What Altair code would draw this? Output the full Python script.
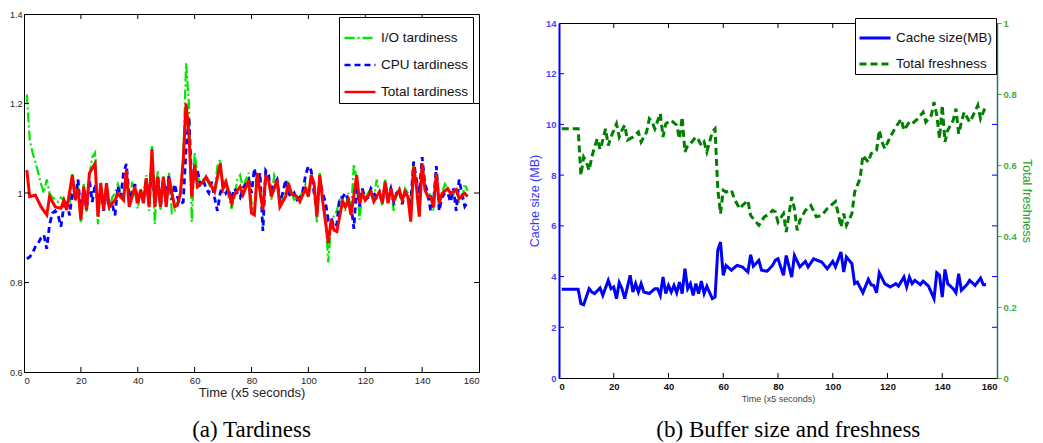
import altair as alt
import pandas as pd

# ---------------- Left panel data: tardiness ----------------
io_t = list(range(1, 157))
io_v = [1.22, 1.12, 1.09, 1.07, 1.045, 1.02, 1.0, 1.03, 1.0, 0.99,
        0.985, 0.98, 0.99, 0.985, 0.975, 0.97, 1.045, 0.985, 1.02, 0.935,
        1.02, 0.955, 1.04, 1.08, 1.09, 0.93, 1.025, 0.96, 1.025, 0.96,
        0.99, 1.0, 1.02, 1.0, 0.99, 1.04, 0.97, 1.025, 1.0, 0.965,
        1.01, 0.99, 1.04, 0.96, 1.105, 0.93, 1.05, 0.96, 1.04, 0.975,
        1.045, 0.955, 0.96, 0.98, 1.0, 1.08, 1.29, 1.20, 0.935, 1.09,
        1.04, 1.02, 1.03, 1.035, 1.02, 1.01, 1.0, 1.06, 1.075, 1.0,
        1.03, 0.99, 0.965, 0.99, 1.03, 1.04, 1.01, 1.03, 1.045, 0.98,
        0.95, 1.045, 1.0, 0.97, 1.05, 1.03, 0.985, 1.04, 1.025, 0.975,
        0.99, 1.0, 1.02, 1.0, 0.985, 0.99, 0.98, 1.01, 1.02, 0.99,
        1.04, 1.02, 0.935, 1.045, 0.98, 0.95, 0.845, 0.93, 0.95, 0.96,
        0.985, 0.99, 0.96, 1.0, 0.955, 1.065, 1.03, 0.94, 1.01, 0.99,
        1.0, 1.01, 0.985, 1.03, 1.0, 0.97, 1.03, 0.985, 1.01, 0.96,
        1.0, 1.01, 0.98, 1.01, 1.0, 0.945, 1.07, 1.02, 0.95, 1.06,
        1.01, 0.99, 1.0, 0.96, 1.035, 0.975, 1.0, 1.02, 1.01, 0.99,
        0.995, 1.015, 0.98, 0.985, 1.02, 1.005]

cpu_t = list(range(1, 157))
cpu_v = [0.853, 0.857, 0.866, 0.880, 0.888, 0.900, 0.906, 0.875, 0.930, 0.955,
         0.960, 0.950, 0.925, 0.970, 0.985, 0.950, 1.000, 0.990, 1.030, 0.955,
         1.010, 0.965, 1.030, 0.980, 1.020, 0.980, 1.010, 0.960, 1.000, 0.970,
         0.975, 0.950, 1.015, 0.990, 1.045, 1.065, 0.990, 1.000, 1.020, 0.980,
         1.000, 0.985, 1.030, 0.975, 1.070, 0.975, 1.040, 0.970, 1.030, 0.990,
         1.040, 0.985, 1.020, 0.990, 0.975, 0.980, 1.100, 1.170, 1.020, 1.040,
         1.050, 1.020, 1.030, 1.010, 1.000, 1.025, 0.990, 0.960, 1.000, 1.020,
         1.000, 1.010, 0.985, 1.010, 1.000, 0.990, 1.010, 1.020, 1.030, 1.000,
         1.055, 1.020, 1.045, 0.915, 1.050, 1.040, 1.000, 1.020, 1.030, 0.980,
         1.000, 1.030, 1.000, 0.990, 1.000, 0.985, 0.990, 1.000, 1.040, 1.060,
         1.050, 1.000, 0.960, 1.030, 1.000, 0.980, 0.940, 0.945, 0.925, 0.930,
         0.990, 0.990, 1.000, 0.985, 0.975, 0.920, 1.020, 0.970, 1.010, 0.985,
         0.990, 1.010, 1.000, 0.990, 1.000, 0.980, 1.020, 0.990, 1.010, 0.980,
         1.000, 1.005, 0.975, 1.000, 0.990, 0.980, 1.070, 1.030, 1.000, 1.080,
         1.020, 1.000, 0.960, 0.980, 1.060, 0.960, 0.990, 1.000, 1.000, 0.980,
         1.010, 0.960, 1.030, 1.000, 0.970, 0.980]

tot_t = [1, 2, 4, 6, 8, 9, 11, 13, 14, 15, 17, 18, 19, 20, 21, 22, 23, 25, 26, 27,
         28, 29, 30, 32, 33, 35, 36, 37, 39, 40, 41, 42, 43, 44, 45, 46, 47, 48, 49, 50,
         51, 53, 54, 55, 56, 57, 58, 59, 60, 61, 63, 64, 66, 67, 69, 70, 71, 73, 74, 76,
         77, 79, 80, 81, 82, 84, 85, 86, 87, 89, 90, 92, 93, 94, 96, 97, 99, 100, 101, 102,
         103, 104, 105, 107, 108, 109, 110, 112, 113, 114, 115, 117, 118, 119, 120, 122, 123,
         125, 126, 127, 128, 129, 130, 132, 133, 134, 135, 136, 137, 138, 139, 140, 141, 142,
         143, 144, 145, 146, 147, 149, 150, 152, 153, 155, 156]
tot_v = [1.051, 0.992, 0.995, 0.969, 0.951, 0.992, 0.969, 0.966, 0.984, 0.962,
         1.040, 0.984, 1.010, 0.940, 1.014, 0.962, 1.044, 1.066, 0.947, 1.022,
         0.962, 1.022, 0.969, 0.984, 0.999, 0.984, 1.051, 0.969, 1.014, 0.977,
         1.007, 0.977, 1.033, 0.969, 1.098, 0.969, 1.036, 0.969, 1.036, 0.969,
         1.033, 0.969, 0.973, 0.999, 1.074, 1.200, 1.133, 0.992, 1.063, 1.014,
         1.025, 1.036, 1.014, 1.003, 1.066, 1.010, 1.025, 0.977, 0.996, 1.014,
         0.996, 1.029, 0.955, 0.951, 1.044, 0.962, 1.036, 1.029, 0.992, 1.029,
         0.969, 0.992, 1.022, 0.999, 0.992, 0.981, 1.010, 0.992, 1.040, 1.022,
         0.947, 1.040, 0.984, 0.888, 0.940, 0.917, 0.914, 0.981, 0.969, 0.984,
         0.951, 1.040, 0.977, 0.999, 0.984, 1.003, 0.981, 1.003, 0.977, 1.025,
         0.977, 1.010, 0.984, 1.007, 0.984, 1.003, 0.992, 0.936, 1.059, 1.014,
         0.947, 1.066, 1.007, 0.992, 0.992, 0.969, 1.044, 0.977, 0.999, 1.010,
         0.999, 1.007, 0.988, 0.999, 0.992]

left_series = ["I/O tardiness", "CPU tardiness", "Total tardiness"]
left_colors = ["#00e600", "#0000ff", "#ff0000"]
left_dashes = [[10, 3, 2, 3], [6, 4], [1, 0]]
left_yticks = [0.6, 0.8, 1.0, 1.2, 1.4]
left_inner_yticks = [0.8, 1.0, 1.2]

# ---------------- Right panel data: cache size & freshness ----------------
cache_t = [1, 7, 8, 9, 11, 12, 13, 15, 16, 18, 19, 20, 21, 22, 23, 24, 26, 27, 28, 29,
           30, 31, 33, 35, 36, 37, 38, 39, 40, 41, 42, 43, 44, 45, 46, 47, 48, 49, 50, 51,
           52, 53, 54, 56, 57, 58, 59, 60, 61, 63, 65, 67, 69, 70, 71, 73, 74, 76, 78, 79,
           80, 82, 83, 85, 86, 88, 90, 91, 93, 96, 98, 100, 101, 103, 104, 105, 107, 108, 109, 111,
           113, 114, 115, 116, 117, 119, 121, 123, 124, 126, 127, 128, 129, 130, 132, 133, 135,
           137, 138, 139, 140, 141, 142, 144, 145, 146, 147, 149, 150, 152, 154, 155, 156]
cache_v = [3.50, 3.50, 2.93, 2.89, 3.52, 3.39, 3.33, 3.55, 3.26, 3.85,
           3.52, 3.59, 3.13, 3.76, 3.52, 3.13, 4.05, 3.39, 3.72, 3.39,
           3.72, 3.39, 3.33, 3.52, 3.52, 3.26, 3.98, 3.33, 3.65, 3.39,
           3.65, 3.36, 3.78, 3.33, 4.31, 3.52, 3.72, 3.26, 3.72, 3.33,
           3.82, 3.33, 3.62, 3.13, 3.19, 5.04, 5.36, 4.05, 4.44, 4.25,
           4.44, 4.38, 4.18, 4.86, 4.41, 4.64, 4.25, 4.21, 4.44, 4.64,
           4.70, 4.05, 4.83, 3.98, 4.83, 4.38, 4.60, 4.38, 4.70, 4.57,
           4.31, 4.60, 4.38, 4.97, 4.18, 4.77, 4.51, 3.72, 3.78, 3.36,
           3.89, 3.68, 3.65, 3.36, 4.15, 3.72, 3.59, 3.72, 3.62, 3.98,
           3.59, 3.98, 3.72, 3.85, 3.68, 3.82, 3.62, 3.13, 4.15, 4.05,
           3.19, 4.28, 3.72, 3.52, 3.36, 4.11, 3.46, 3.68, 3.85, 3.65,
           3.94, 3.68, 3.68]

fresh_t = [1, 7, 8, 9, 10, 11, 12, 13, 14, 15, 16, 17, 18, 19, 21, 22, 23, 24, 25, 27,
           29, 30, 32, 33, 34, 35, 37, 38, 39, 40, 41, 43, 44, 45, 46, 47, 48, 50, 51, 52,
           53, 54, 56, 57, 58, 59, 60, 61, 63, 64, 66, 67, 69, 70, 72, 73, 75, 77, 78, 79,
           80, 82, 83, 85, 86, 87, 88, 90, 92, 94, 96, 98, 101, 102, 103, 104, 105, 107, 108, 110,
           111, 113, 114, 116, 117, 118, 119, 121, 123, 125, 126, 128, 129, 131, 133, 134, 136,
           137, 138, 139, 140, 141, 142, 144, 145, 146, 147, 148, 150, 151, 153, 154, 156]
fresh_v = [0.702, 0.702, 0.571, 0.622, 0.608, 0.585, 0.623, 0.651, 0.674, 0.644,
           0.670, 0.702, 0.655, 0.679, 0.716, 0.679, 0.698, 0.712, 0.670, 0.679,
           0.693, 0.665, 0.693, 0.730, 0.721, 0.702, 0.745, 0.679, 0.716, 0.721,
           0.726, 0.712, 0.674, 0.735, 0.637, 0.655, 0.660, 0.679, 0.670, 0.655,
           0.665, 0.637, 0.693, 0.702, 0.533, 0.463, 0.529, 0.524, 0.529, 0.505,
           0.477, 0.486, 0.500, 0.458, 0.439, 0.430, 0.454, 0.463, 0.472, 0.468,
           0.439, 0.463, 0.411, 0.510, 0.477, 0.416, 0.444, 0.472, 0.486, 0.454,
           0.458, 0.477, 0.497, 0.463, 0.425, 0.463, 0.430, 0.463, 0.524, 0.562,
           0.627, 0.608, 0.632, 0.641, 0.698, 0.665, 0.646, 0.679, 0.707, 0.729,
           0.698, 0.721, 0.716, 0.730, 0.749, 0.721, 0.740, 0.777, 0.740, 0.674,
           0.768, 0.665, 0.698, 0.726, 0.759, 0.688, 0.721, 0.749, 0.721, 0.735,
           0.768, 0.730, 0.768]

right_series = ["Cache size(MB)", "Total freshness"]
right_colors = ["#0000ff", "#008000"]
right_dashes = [[1, 0], [7, 4]]
x_ticks = [0, 20, 40, 60, 80, 100, 120, 140, 160]
x_inner_ticks = [20, 40, 60, 80, 100, 120, 140]
cache_ticks = [0, 2, 4, 6, 8, 10, 12, 14]
cache_inner_ticks = [2, 4, 6, 8, 10, 12]
fresh_ticks = [0, 0.2, 0.4, 0.6, 0.8, 1.0]

FONT = "Liberation Sans"
SERIF = "Liberation Serif"

# ---------------- Left panel ----------------
W1, H1 = 455, 358
xs1 = alt.Scale(domain=[0, 160], nice=False)
ys1 = alt.Scale(domain=[0.6, 1.4], nice=False, zero=False)
xax1 = alt.Axis(values=x_ticks, tickSize=0, labelPadding=3, labelFontSize=9.5, labelColor="#222",
                title="Time (x5 seconds)", titleFontSize=13, titleFontWeight="normal",
                titlePadding=2, titleColor="#222", domainColor="black", labelFont=FONT, titleFont=FONT)
yax1 = alt.Axis(values=left_yticks, format="~g", tickSize=0, labelPadding=2, labelFontSize=9,
                labelColor="#222", title=None, domainColor="black", labelFont=FONT)

leg1 = alt.Legend(title=None, orient="none", legendX=315, legendY=3, fillColor="white",
                  strokeColor="black", padding=4, labelFontSize=13.5, labelFont=FONT,
                  symbolType="stroke", symbolSize=960, symbolStrokeWidth=2.5, rowPadding=3,
                  labelOffset=4, labelColor="#111")
col1 = alt.Color("s:N", scale=alt.Scale(domain=left_series, range=left_colors), legend=leg1)
dash1 = alt.StrokeDash("s:N", scale=alt.Scale(domain=left_series, range=left_dashes), legend=leg1)

df_io = pd.DataFrame({"t": io_t, "v": io_v, "s": left_series[0]})
df_cpu = pd.DataFrame({"t": cpu_t, "v": cpu_v, "s": left_series[1]})
df_tot = pd.DataFrame({"t": tot_t, "v": tot_v, "s": left_series[2]})


def line1(df, w):
    return alt.Chart(df).mark_line(strokeWidth=w).encode(
        x=alt.X("t:Q", scale=xs1, axis=xax1),
        y=alt.Y("v:Q", scale=ys1, axis=yax1),
        color=col1, strokeDash=dash1, order="t:Q")


xt1 = pd.DataFrame({"t": x_inner_ticks})
yt1 = pd.DataFrame({"v": left_inner_yticks})
tick_top1 = alt.Chart(xt1).mark_rule(color="black").encode(
    x=alt.X("t:Q", scale=xs1, axis=xax1), y=alt.value(0), y2=alt.value(5))
tick_bot1 = alt.Chart(xt1).mark_rule(color="black").encode(
    x=alt.X("t:Q", scale=xs1, axis=xax1), y=alt.value(H1), y2=alt.value(H1 - 5))
tick_l1 = alt.Chart(yt1).mark_rule(color="black").encode(
    y=alt.Y("v:Q", scale=ys1, axis=yax1), x=alt.value(0), x2=alt.value(5))
tick_r1 = alt.Chart(yt1).mark_rule(color="black").encode(
    y=alt.Y("v:Q", scale=ys1, axis=yax1), x=alt.value(W1), x2=alt.value(W1 - 5))

left = alt.layer(
    line1(df_io, 2.2), line1(df_cpu, 2.8), line1(df_tot, 3.0),
    tick_top1, tick_bot1, tick_l1, tick_r1
).properties(
    width=W1, height=H1,
    title=alt.TitleParams("(a) Tardiness", orient="bottom", font=SERIF, fontSize=23,
                          fontWeight="normal", color="black", offset=19, anchor="middle")
)

# ---------------- Right panel ----------------
W2, H2 = 438, 355
xs2 = alt.Scale(domain=[0, 160], nice=False)
ys_cache = alt.Scale(domain=[0, 14], nice=False)
ys_fresh = alt.Scale(domain=[0, 1], nice=False)
xax2 = alt.Axis(values=x_ticks, tickSize=0, labelPadding=3, labelFontSize=9.5, labelFontWeight="bold",
                labelColor="#111", title="Time (x5 seconds)", titleFontSize=9,
                titleFontWeight="normal", titlePadding=4, titleColor="#444",
                domainColor="black", labelFont=FONT, titleFont=FONT)
yax_cache = alt.Axis(orient="left", values=cache_ticks, tickSize=0, labelPadding=3,
                     labelFontSize=9.5, labelFontWeight="bold", labelColor="#4444ff",
                     title="Cache size (MB)", titleFontSize=12.5, titleFontWeight="normal",
                     titleColor="#3a3aff", titlePadding=4, domainColor="#0000ff", domainWidth=2,
                     labelFont=FONT, titleFont=FONT)
yax_fresh = alt.Axis(orient="right", values=fresh_ticks, format="~g", tickSize=4,
                     tickColor="#44aa44", labelPadding=2, labelFontSize=9.5, labelFontWeight="bold",
                     labelColor="#44aa44", title="Total freshness", titleFontSize=12.5,
                     titleFontWeight="normal", titleColor="#2e9e2e", titlePadding=3,
                     domainColor="#2f6f6f", domainWidth=1.5, labelFont=FONT, titleFont=FONT)

leg2 = alt.Legend(title=None, orient="none", legendX=296, legendY=4, fillColor="white",
                  strokeColor="black", padding=3, labelFontSize=13.5, labelFont=FONT,
                  symbolType="stroke", symbolSize=960, symbolStrokeWidth=2.8, rowPadding=2,
                  labelOffset=4, labelColor="#111")
col2 = alt.Color("s:N", scale=alt.Scale(domain=right_series, range=right_colors), legend=leg2)
dash2 = alt.StrokeDash("s:N", scale=alt.Scale(domain=right_series, range=right_dashes), legend=leg2)

df_cache = pd.DataFrame({"t": cache_t, "v": cache_v, "s": right_series[0]})
df_fresh = pd.DataFrame({"t": fresh_t, "v": fresh_v, "s": right_series[1]})

cache_line = alt.Chart(df_cache).mark_line(strokeWidth=3).encode(
    x=alt.X("t:Q", scale=xs2, axis=xax2),
    y=alt.Y("v:Q", scale=ys_cache, axis=yax_cache),
    color=col2, strokeDash=dash2, order="t:Q")
fresh_line = alt.Chart(df_fresh).mark_line(strokeWidth=3).encode(
    x=alt.X("t:Q", scale=xs2, axis=xax2),
    y=alt.Y("v:Q", scale=ys_fresh, axis=yax_fresh),
    color=col2, strokeDash=dash2, order="t:Q")

xt2 = pd.DataFrame({"t": x_inner_ticks})
ct2 = pd.DataFrame({"v": cache_inner_ticks})
tick_top2 = alt.Chart(xt2).mark_rule(color="black").encode(
    x=alt.X("t:Q", scale=xs2, axis=xax2), y=alt.value(0), y2=alt.value(5))
tick_bot2 = alt.Chart(xt2).mark_rule(color="black").encode(
    x=alt.X("t:Q", scale=xs2, axis=xax2), y=alt.value(H2), y2=alt.value(H2 - 5))
tick_l2 = alt.Chart(ct2).mark_rule(color="#0000ff").encode(
    y=alt.Y("v:Q", scale=ys_cache, axis=None), x=alt.value(0), x2=alt.value(5))
tick_r2 = alt.Chart(ct2).mark_rule(color="#0000ff").encode(
    y=alt.Y("v:Q", scale=ys_cache, axis=None), x=alt.value(W2), x2=alt.value(W2 - 5))

right_inner = alt.layer(
    cache_line, fresh_line, tick_l2, tick_r2, tick_top2, tick_bot2
).resolve_scale(y="independent").properties(width=W2, height=H2)

# invisible 1px spacer so that the right plot sits slightly lower than the left one
spacer = alt.Chart(pd.DataFrame({"t": [0]})).mark_rule(strokeOpacity=0).encode(
    x=alt.value(0), y=alt.value(0), y2=alt.value(1)
).properties(width=W2, height=1, view=alt.ViewBackground(stroke="transparent"))

right = alt.vconcat(spacer, right_inner, spacing=1).properties(
    title=alt.TitleParams("(b) Buffer size and freshness", orient="bottom", font=SERIF,
                          fontSize=23, fontWeight="normal", color="black", offset=15,
                          anchor="middle", dx=8)
)

chart = alt.hconcat(left, right, spacing=47).resolve_scale(
    color="independent", strokeDash="independent"
).properties(
    padding={"left": 0, "top": 1, "right": 0, "bottom": 0}
).configure_view(
    stroke="black", strokeWidth=1
).configure_axis(
    grid=False
)

chart.save("out.html", embed_options={"renderer": "svg", "actions": False})
